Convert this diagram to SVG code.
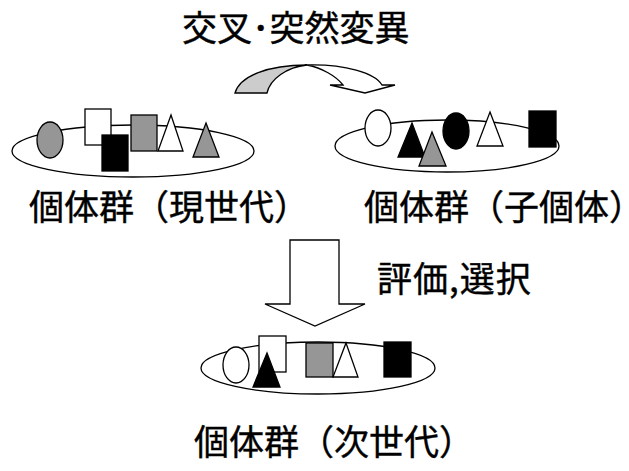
<svg xmlns="http://www.w3.org/2000/svg" width="629" height="471" viewBox="0 0 629 471">
<style>
.s{stroke:#000;stroke-width:1.3;stroke-linejoin:miter}
.w{fill:#fff}
.g{fill:#969696}
.b{fill:#000}
.t{font-family:"Noto Sans CJK JP","Liberation Sans",sans-serif;font-size:35px;fill:#000;stroke:#000;stroke-width:0.4}
.tight{letter-spacing:-20px}
</style>
<rect width="629" height="471" fill="#fff"/>
<text class="t" x="182" y="41">交叉･突然変異</text>
<g id="connectors">
<g id="crossover-arrow">
<path class="s" fill="#cccccc" d="M235,93 C240,76 268,65 307,65 C287,67 270,79 267,93 Z"/>
<path class="s w" d="M307,65 C345,64 375,73 382,85 L395,85 L365,93 L330,85 L343,85 C336,76 322,68 307,65 Z"/>
</g>
<polygon id="select-arrow" class="s w" points="290,240 339,240 339,304 365,304 315,326 265,304 290,304"/>
</g>
<g id="current-gen">
<ellipse class="s w" cx="133" cy="151" rx="121" ry="26"/>
<ellipse class="s g" cx="50" cy="140" rx="13" ry="18"/>
<rect class="s w" x="85" y="109" width="26" height="36"/>
<rect class="s b" x="102" y="135" width="26" height="36"/>
<rect class="s g" x="131" y="115" width="26" height="36"/>
<polygon class="s w" points="171,115 183,151 158,151"/>
<polygon class="s g" points="206,123 219,157 193,157"/>
<text class="t" x="29" y="219.5">個体群（現世代<tspan class="tight">）</tspan></text>
</g>
<g id="children">
<ellipse class="s w" cx="447" cy="146" rx="112" ry="26"/>
<ellipse class="s w" cx="378" cy="128" rx="13" ry="18"/>
<polygon class="s b" points="412,123 425,157 398,157"/>
<polygon class="s g" points="432,132 446,166 419,166"/>
<ellipse class="s b" cx="456" cy="131" rx="13" ry="18"/>
<polygon class="s w" points="490,112 503,146 477,146"/>
<rect class="s b" x="529" y="111" width="27" height="36"/>
<text class="t" x="364" y="219.5">個体群（子個体<tspan class="tight">）</tspan></text>
</g>
<text class="t" x="377" y="292" style="letter-spacing:1px">評価,選択</text>
<g id="next-gen">
<ellipse class="s w" cx="318" cy="368" rx="117" ry="26"/>
<ellipse class="s w" cx="236" cy="365" rx="13" ry="18"/>
<rect class="s w" x="259" y="336" width="27" height="36"/>
<polygon class="s b" points="267,353 280,387 253,387"/>
<rect class="s g" x="306" y="343" width="27" height="34"/>
<polygon class="s w" points="346,343 358,377 333,377"/>
<rect class="s b" x="384" y="342" width="27" height="35"/>
<text class="t" x="194" y="455">個体群（次世代<tspan class="tight">）</tspan></text>
</g>
</svg>
